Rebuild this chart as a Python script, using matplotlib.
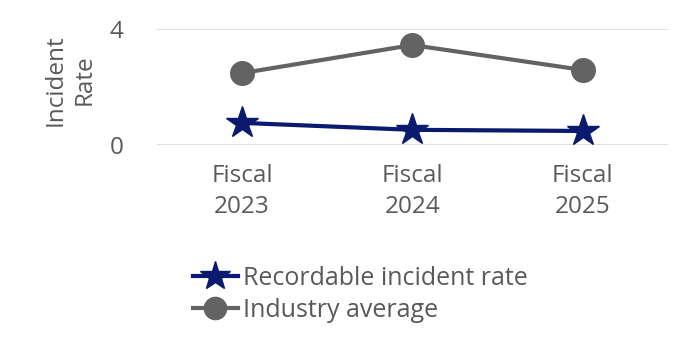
import matplotlib
matplotlib.use("Agg")
import matplotlib.pyplot as plt
from matplotlib.lines import Line2D

plt.rcParams['font.family'] = ['Open Sans', 'DejaVu Sans']

categories = ["Fiscal\n2023", "Fiscal\n2024", "Fiscal\n2025"]
recordable = [0.76, 0.52, 0.48]
industry = [2.48, 3.45, 2.59]
yticks = [0, 4]

txt = '#595959'
fs = 17.5
fig = plt.figure(figsize=(7, 3.64), dpi=100)
ax = fig.add_axes([0.224, 0.602, 0.73, 0.318])
x = list(range(len(categories)))
ax.plot(x, industry, color='#636363', lw=3, marker='o', ms=17, label='Industry average', zorder=3)
ax.plot(x, recordable, color='#0a1a6e', lw=3, marker='*', ms=24, label='Recordable incident rate', zorder=4)
ax.set_xlim(-0.5, 2.5)
ax.set_ylim(0, 4)
ax.set_yticks(yticks)
ax.set_xticks(x)
ax.set_xticklabels(categories, fontsize=fs, color=txt, linespacing=1.35)
ax.tick_params(axis='y', labelsize=fs, labelcolor=txt, length=0, pad=24)
ax.tick_params(axis='x', length=0, pad=14)
ax.yaxis.grid(True, color='#d9d9d9', lw=1.2)
ax.set_axisbelow(True)
for s in ax.spines.values():
    s.set_visible(False)
fig.text(0.1, 0.78, "Incident\nRate", rotation=90, ha='center', va='center', fontsize=fs, color=txt, linespacing=1.3)

handles = [Line2D([], [], color='#0a1a6e', lw=3, marker='*', ms=22),
           Line2D([], [], color='#636363', lw=3, marker='o', ms=16)]
fig.legend(handles, ['Recordable incident rate', 'Industry average'], loc='upper left',
           bbox_to_anchor=(0.275, 0.27), frameon=False, fontsize=18, labelcolor=txt,
           handlelength=1.8, handletextpad=0.2, labelspacing=0.3, borderpad=0, borderaxespad=0)
fig.savefig("out.png", dpi=100)
